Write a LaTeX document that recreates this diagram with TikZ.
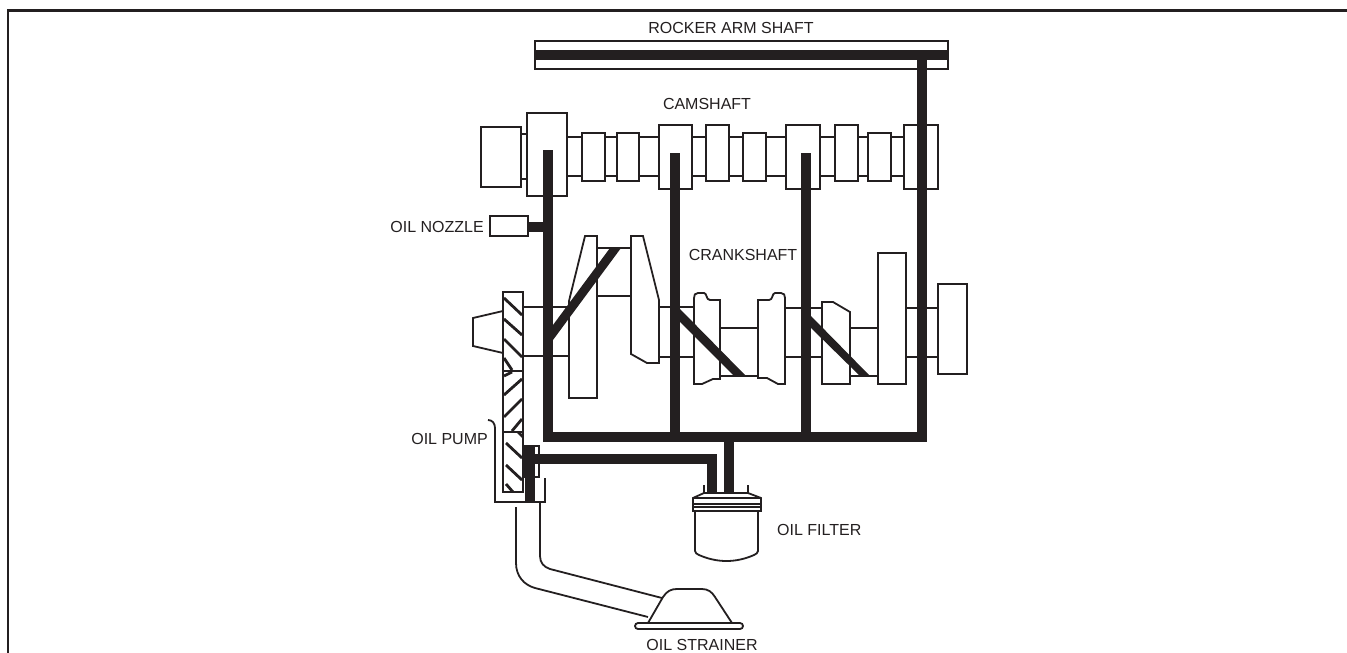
\documentclass[tikz,border=0pt]{standalone}
\usepackage{fontspec}
\setmainfont{Liberation Sans}
\definecolor{ink}{HTML}{231F20}
\tikzset{
  thin line/.style={draw=ink,line width=1.8pt,line join=miter},
  part/.style={thin line,fill=white},
  pipe/.style={draw=ink,line width=10pt,line cap=butt,line join=miter},
  hatch/.style={draw=ink,line width=2.8pt},
  label/.style={inner sep=0pt,text=ink,font=\fontsize{16}{18}\selectfont}
}
\begin{document}
\begin{tikzpicture}[x=1pt,y=-1pt]
\useasboundingbox (0,0) rectangle (1347,653);
% frame
\draw[draw=ink,line width=2.4pt] (8,653) -- (8,10.5) -- (1347,10.5);
% coordinates of oil passages
\coordinate (busL) at (548,437);
\coordinate (busR) at (922,437);
\coordinate (rockL) at (535,55);
\coordinate (rockR) at (948,55);
\coordinate (rockD) at (922,55);
\coordinate (v1top) at (548,150);
\coordinate (v2top) at (675,153);
\coordinate (v2bot) at (675,437);
\coordinate (v3top) at (806,153);
\coordinate (v3bot) at (806,437);
\coordinate (stemT) at (729,437);
\coordinate (stemB) at (729,493);
\coordinate (feedC) at (712,459);
\coordinate (feedB) at (712,493);
\coordinate (noz) at (528,227);
\coordinate (nozJ) at (548,227);
% crankshaft
\draw[thin line] (523,307) -- (569,307) (523,356) -- (569,356);
\draw[thin line] (659,307) -- (694,307) (659,357) -- (694,357);
\draw[thin line] (785,308) -- (822,308) (785,357) -- (822,357);
\draw[thin line] (906,308) -- (938,308) (906,357) -- (938,357);
\draw[thin line] (597,248) -- (631,248) (597,296) -- (631,296);
\draw[thin line] (720,328) -- (758,328) (720,376) -- (758,376);
\draw[thin line] (850,328) -- (878,328) (850,376) -- (878,376);
% crank webs
\draw[part] (585,236) -- (597,236) -- (597,398) -- (569,398) -- (569,301) -- cycle;
\draw[part] (631,236) -- (643,236) -- (659,300) -- (659,363) -- (647,363) -- (631,354) -- cycle;
\draw[part] (694,298) .. controls (694,295) and (695,293) .. (698,293) -- (704,293) .. controls (707,293) and (706,300) .. (710,300) -- (720,300) -- (720,379) -- (713,379) -- (702,384) -- (694,384) -- cycle;
\draw[part] (785,298) .. controls (785,295) and (784,293) .. (781,293) -- (775,293) .. controls (772,293) and (773,300) .. (769,300) -- (758,300) -- (758,378) -- (767,378) -- (778,384) -- (785,384) -- cycle;
\draw[part] (822,302) -- (833,302) -- (850,312) -- (850,384) -- (822,384) -- cycle;
\draw[part] (878,253) rectangle (906,384);
\draw[part] (938,284) rectangle (967,374);
% camshaft
\draw[thin line] (521,134) -- (527,134) (521,179) -- (527,179);
\draw[thin line] (567,137) -- (904,137) (567,176) -- (904,176);
\draw[part] (481,127) rectangle (521,187);
\draw[part] (527,113) rectangle (567,196);
\draw[part] (582,133) rectangle (605,181);
\draw[part] (617,133) rectangle (639,181);
\draw[part] (659,125) rectangle (692,189);
\draw[part] (706,125) rectangle (729,181);
\draw[part] (743,133) rectangle (766,181);
\draw[part] (786,125) rectangle (820,189);
\draw[part] (835,125) rectangle (858,181);
\draw[part] (868,133) rectangle (891,181);
\draw[part] (904,125) rectangle (938,189);
% rocker arm shaft
\draw[part] (535,41) rectangle (948,69);
% nozzle
\draw[part] (490,216) rectangle (528,236);
% passages
\fill[ink] (610,248) -- (621,248) -- (553,340) -- (553,325) -- cycle;
\fill[ink] (680,309) -- (746,376) -- (734,376) -- (680,322) -- cycle;
\fill[ink] (811,316) -- (870,376) -- (860,376) -- (811,328) -- cycle;
\draw[pipe] (rockL) -- (rockR);
\draw[pipe] (rockD) -- (busR);
\draw[pipe] (v1top) -- (busL) -- ([xshift=5pt]busR);
\draw[pipe] (v2top) -- (v2bot);
\draw[pipe] (v3top) -- (v3bot);
\draw[pipe] (noz) -- (nozJ);
\draw[pipe] (stemT) -- (stemB);
% timing gears
\draw[part] (503,311) -- (473,318) -- (473,346) -- (503,353);
\draw[part] (503,292) rectangle (523,492);
\draw[thin line] (503,371) -- (523,371) (503,432) -- (523,432);
\begin{scope}
\clip (503,292) rectangle (523,492);
\draw[hatch] (504,298) -- (522,315) (504,319) -- (522,335) (504,339) -- (522,357) (504,358) -- (512,370);
\draw[hatch] (504,395) -- (522,379) (504,417) -- (522,399) (512,431) -- (522,419) (504,376) -- (512,372);
\draw[hatch] (506,443) -- (522,458) (506,465) -- (522,480) (506,484) -- (513,492) (518,432) -- (523,437);
\end{scope}
% pump housing
\draw[thin line,fill=none] (488,420) .. controls (492,420) and (495,423) .. (495,428) -- (495,502) -- (545,502) -- (545,478);
\draw[part] (524,446) rectangle (539,477);
\draw[pipe] (530,446) -- (530,502);
\draw[pipe] (530,459) -- (feedC) -- (feedB);
% filter
\draw[thin line] (704,485) -- (704,493) (748,485) -- (748,493);
\draw[part] (695,511) -- (695,551) .. controls (695,553) and (697,554) .. (699,555) .. controls (717,563) and (736,563) .. (754,555) .. controls (756,554) and (758,553) .. (758,551) -- (758,511);
\draw[part] (704,493) -- (748,493) -- (761,498) -- (761,511) -- (693,511) -- (693,498) -- cycle;
\draw[thin line] (693,498) -- (761,498) (693,504) -- (761,504) (693,507) -- (761,507);
% strainer pipe
\draw[thin line] (516,507) -- (516,563) .. controls (516,576) and (524,585) .. (535,588) -- (648,617);
\draw[thin line] (540,502) -- (540,556) .. controls (540,563) and (544,567) .. (550,569) -- (662,598);
% strainer
\draw[part] (648,623) -- (663,597) .. controls (667,591) and (671,589) .. (677,589) -- (702,589) .. controls (708,589) and (712,592) .. (715,597) -- (732,623);
\draw[part,rounded corners=3pt] (635,623) rectangle (743,629);
% labels
\node[label] (rocker) at (731,28) {ROCKER ARM SHAFT};
\node[label] (cam) at (707,104) {CAMSHAFT};
\node[label,anchor=east] (nozzle) at (484,227) {OIL NOZZLE};
\node[label] (crank) at (743,255) {CRANKSHAFT};
\node[label,anchor=east] (pump) at (488,439) {OIL PUMP};
\node[label,anchor=west] (filter) at (777,530) {OIL FILTER};
\node[label] (strainer) at (702,645) {OIL STRAINER};
\end{tikzpicture}
\end{document}
